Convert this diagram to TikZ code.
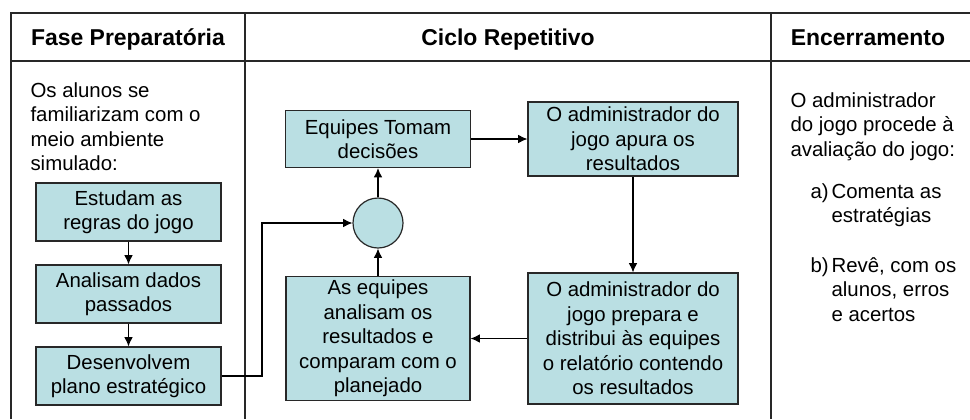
\documentclass[tikz,border=0pt]{standalone}
\usepackage{fontspec}
\setmainfont{Liberation Sans}
\usetikzlibrary{positioning, arrows.meta}
\definecolor{boxfill}{RGB}{186,223,227}
\definecolor{rule}{RGB}{40,40,40}
\tikzstyle{step box}=[
    draw = rule,
    line width = 0.9pt,
    fill = boxfill,
    align = center,
    inner sep = 0pt
]
\tikzstyle{plain text}=[
    align = left,
    inner sep = 0pt,
    anchor = north west
]

\begin{document}
\begin{tikzpicture}[x=0.75pt, y=-0.75pt, >={Latex[length=7pt,width=6.5pt]}, line width=0.8pt,
        font=\fontsize{15.3}{18.4}\selectfont,
        head/.style = {font=\fontsize{17.2}{20}\selectfont\bfseries, anchor=base, inner sep=0pt}]
        \useasboundingbox (0,0) rectangle (970,419);

        % table
        \draw[rule, line width=1.3pt] (11,419) -- (11,13) -- (970,13);
        \draw[rule, line width=1.3pt] (11,61) -- (970,61);
        \draw[rule, line width=1.3pt] (245,13) -- (245,419);
        \draw[rule, line width=1.3pt] (771,13) -- (771,419);

        \node[head] (h1) at (128,45.5) {Fase Preparatória};
        \node[head] (h2) at (508,45.5) {Ciclo Repetitivo};
        \node[head] (h3) at (868,45.5) {Encerramento};

        % fase preparatoria
        \node[plain text] (intro) at (30,82) {Os alunos se\\familiarizam com o\\meio ambiente\\simulado:};
        \node[step box, minimum width=138.75pt, minimum height=43.5pt] (e1) at (128.5,212) {Estudam as\\regras do jogo};
        \node[step box, minimum width=138.75pt, minimum height=43.5pt, node distance=61.5pt] (e2) [below of = e1] {Analisam dados\\passados};
        \node[step box, minimum width=138.75pt, minimum height=43.5pt, node distance=61.5pt] (e3) [below of = e2] {Desenvolvem\\plano estratégico};

        \draw[->] (e1) -- (e2);
        \draw[->] (e2) -- (e3);

        % ciclo repetitivo
        \coordinate (jn) at (262,223);
        \node[step box, circle, minimum size=37.5pt] (circ) at (378,223) {};
        \node[step box, minimum width=138.75pt, minimum height=42.75pt] (eq) at (378,139) {Equipes Tomam\\decisões};
        \node[step box, minimum width=157.5pt, minimum height=55.5pt] (adm1) at (633,139) {O administrador do\\jogo apura os\\resultados};
        \node[step box, minimum width=157.5pt, minimum height=98.25pt] (adm2) at (633,338.5) {O administrador do\\jogo prepara e\\distribui às equipes\\o relatório contendo\\os resultados};
        \node[step box, minimum width=138pt, minimum height=93pt] (res) at (378,338.5) {As equipes\\analisam os\\resultados e\\comparam com o\\planejado};

        \draw[->] (e3) -| (jn) -- (circ);
        \draw[->] (circ) -- (eq);
        \draw[->] (eq) -- (adm1);
        \draw[->] (adm1) -- (adm2);
        \draw[->] (adm2) -- (res);
        \draw[->] (res) -- (circ);

        % encerramento
        \node[plain text] (fim) at (790,92) {O administrador\\do jogo procede à\\avaliação do jogo:};
        \node[plain text, anchor=base west] (la) at (810,198.5) {a)};
        \node[plain text] (ta) at (831,183.5) {Comenta as\\estratégias};
        \node[plain text, anchor=base west] (lb) at (810,272) {b)};
        \node[plain text] (tb) at (831,257) {Revê, com os\\alunos, erros\\e acertos};

    \end{tikzpicture}
\end{document}
